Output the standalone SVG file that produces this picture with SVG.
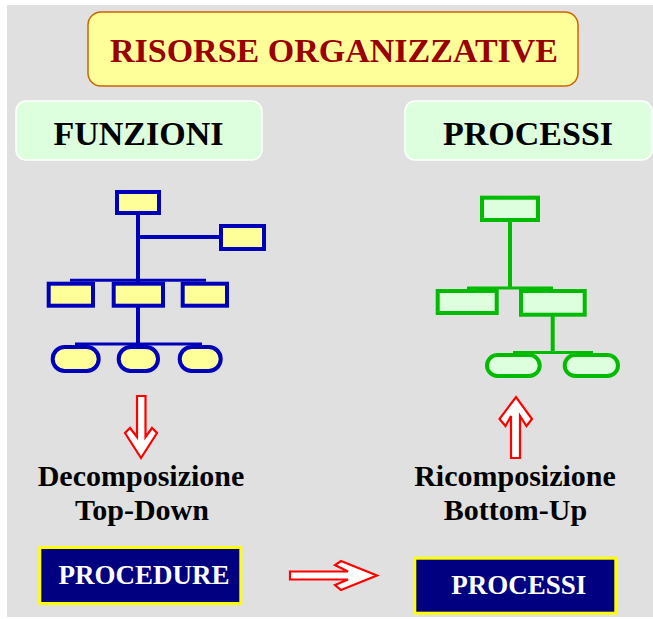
<svg xmlns="http://www.w3.org/2000/svg" width="653" height="619" viewBox="0 0 653 619">
  <style>
    .t { font-family: "Liberation Serif", "Times New Roman", serif; font-weight: bold; text-anchor: middle; }
    .blue { fill: #FFFF99; stroke: #0000BB; stroke-width: 4; }
    .green { fill: #DDFFDD; stroke: #00BB00; stroke-width: 4; }
    .bl { stroke: #0000BB; fill: none; }
    .gl { stroke: #00BB00; fill: none; }
    .arrow { fill: #FFFFFF; stroke: #FF0000; stroke-width: 2.2; stroke-linejoin: miter; }
    .navy { fill: #000080; stroke: #FFFF00; stroke-width: 3; }
    .head { fill: #DDFFDD; stroke: #FFFFFF; stroke-width: 1.5; }
  </style>

  <!-- page -->
  <rect x="0" y="0" width="653" height="619" fill="#FFFFFF"/>
  <rect x="7" y="5" width="646" height="612" fill="#E0E0E0"/>

  <!-- title -->
  <g id="title">
    <rect x="88" y="12" width="490" height="74" rx="13" fill="#FFFF99" stroke="#CC6600" stroke-width="1.5"/>
    <text class="t" x="334" y="62" font-size="34" fill="#990000">RISORSE ORGANIZZATIVE</text>
  </g>

  <!-- column headers -->
  <g id="funzioni">
    <rect class="head" x="16" y="101" width="246" height="59" rx="10"/>
    <text class="t" x="138.5" y="145" font-size="34" fill="#000000">FUNZIONI</text>
  </g>
  <g id="processi-header">
    <rect class="head" x="405" y="101" width="247" height="59" rx="10"/>
    <text class="t" x="528" y="145" font-size="34" fill="#000000">PROCESSI</text>
  </g>

  <!-- connectors of both trees -->
  <g id="connectors">
    <line class="bl" x1="138" y1="214" x2="138" y2="282" stroke-width="4"/>
    <line class="bl" x1="138" y1="237" x2="221" y2="237" stroke-width="4"/>
    <line class="bl" x1="70" y1="280.2" x2="206" y2="280.2" stroke-width="3"/>
    <line class="bl" x1="138" y1="307" x2="138" y2="345" stroke-width="4"/>
    <line class="bl" x1="75" y1="344" x2="202" y2="344" stroke-width="3"/>

    <line class="gl" x1="510" y1="221" x2="510" y2="289" stroke-width="4"/>
    <line class="gl" x1="467" y1="288" x2="553" y2="288" stroke-width="3"/>
    <line class="gl" x1="552.7" y1="315" x2="552.7" y2="353" stroke-width="4"/>
    <line class="gl" x1="513" y1="352.5" x2="593" y2="352.5" stroke-width="3"/>
  </g>

  <!-- functional hierarchy -->
  <g id="f-root"><rect class="blue" x="117" y="192" width="42" height="21"/></g>
  <g id="f-staff"><rect class="blue" x="221" y="226" width="43" height="23"/></g>
  <g id="f-left"><rect class="blue" x="48.7" y="283.7" width="44.3" height="22"/></g>
  <g id="f-mid"><rect class="blue" x="113.7" y="283.7" width="49.3" height="22"/></g>
  <g id="f-right"><rect class="blue" x="182.7" y="283.7" width="44.3" height="22"/></g>
  <g id="f-leaf1"><rect class="blue" x="52.7" y="347" width="46" height="24" rx="12"/></g>
  <g id="f-leaf2"><rect class="blue" x="118.7" y="347" width="39.3" height="24" rx="12"/></g>
  <g id="f-leaf3"><rect class="blue" x="179.7" y="347" width="41" height="24" rx="12"/></g>

  <!-- process hierarchy -->
  <g id="p-root"><rect class="green" x="482" y="197.7" width="56" height="22.3"/></g>
  <g id="p-left"><rect class="green" x="437.7" y="291" width="59" height="22"/></g>
  <g id="p-right"><rect class="green" x="521" y="291" width="63.7" height="23.7"/></g>
  <g id="p-leaf1"><rect class="green" x="487" y="355" width="52.7" height="21" rx="10.5"/></g>
  <g id="p-leaf2"><rect class="green" x="564.7" y="355" width="53.3" height="21" rx="10.5"/></g>

  <!-- block arrows -->
  <g id="arrow-down">
    <polygon class="arrow" points="137,396 145.5,396 145.5,437 152,428 157,433 141,458 125,433 130,428 137,437"/>
  </g>
  <g id="arrow-up">
    <polygon class="arrow" points="511,458 520,458 520,416 526.5,426 532,419 516,397 499.5,419 505.5,426 511,416"/>
  </g>
  <g id="arrow-right">
    <polygon class="arrow" points="290,571.5 348,571.5 335,565 341,561 377,575.5 341,590 335,585 348,579.5 290,579.5"/>
  </g>

  <!-- captions -->
  <g id="top-down">
    <text class="t" x="141" y="486" font-size="30" fill="#000000">Decomposizione</text>
    <text class="t" x="142" y="520" font-size="30" fill="#000000">Top-Down</text>
  </g>
  <g id="bottom-up">
    <text class="t" x="515" y="486" font-size="30" fill="#000000">Ricomposizione</text>
    <text class="t" x="515.5" y="520" font-size="30" fill="#000000">Bottom-Up</text>
  </g>

  <!-- outcome boxes -->
  <g id="procedure">
    <rect class="navy" x="39.8" y="547.5" width="201" height="56"/>
    <text class="t" x="144" y="584" font-size="27" fill="#FFFFFF">PROCEDURE</text>
  </g>
  <g id="processi">
    <rect class="navy" x="414.8" y="558.2" width="201" height="55"/>
    <text class="t" x="518.7" y="594.3" font-size="27" fill="#FFFFFF">PROCESSI</text>
  </g>
</svg>
